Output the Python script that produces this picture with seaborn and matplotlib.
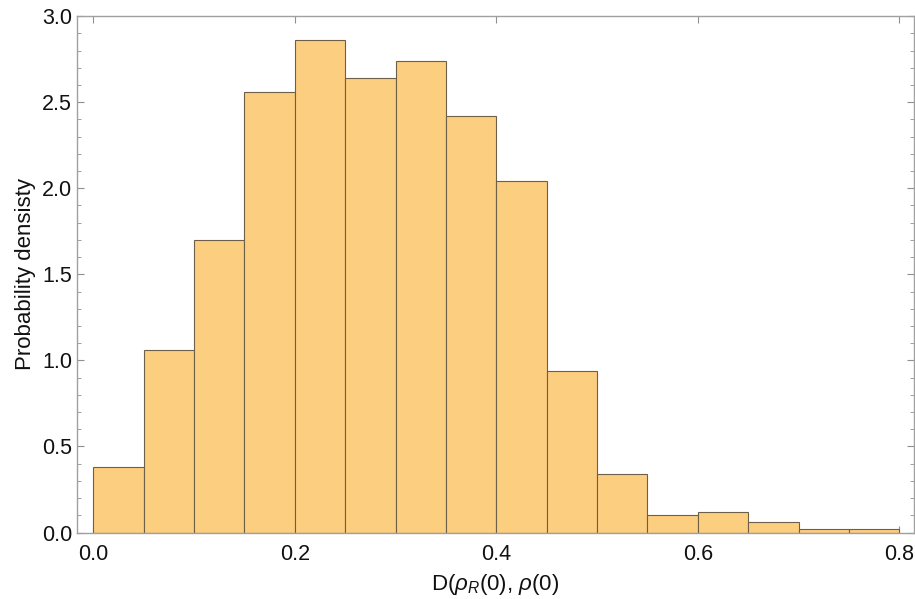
import numpy as np
import matplotlib
matplotlib.use("Agg")
import matplotlib.pyplot as plt
import seaborn as sns
from matplotlib.ticker import MultipleLocator

# Data (bin width 0.05)
bin_edges = [0.00, 0.05, 0.10, 0.15, 0.20, 0.25, 0.30, 0.35, 0.40,
             0.45, 0.50, 0.55, 0.60, 0.65, 0.70, 0.75, 0.80]
densities = [0.38, 1.06, 1.70, 2.56, 2.86, 2.64, 2.74, 2.42,
             2.04, 0.94, 0.34, 0.10, 0.12, 0.06, 0.02, 0.02]
x_ticks = [0.0, 0.2, 0.4, 0.6, 0.8]
y_ticks = [0.0, 0.5, 1.0, 1.5, 2.0, 2.5, 3.0]

sns.set_style("ticks")
plt.rcParams['font.family'] = ['Liberation Sans', 'DejaVu Sans']
plt.rcParams['mathtext.fontset'] = 'custom'
plt.rcParams['mathtext.rm'] = 'Liberation Sans'
plt.rcParams['mathtext.it'] = 'Liberation Sans:italic'

centers = [(a + b) / 2 for a, b in zip(bin_edges[:-1], bin_edges[1:])]

fig = plt.figure(figsize=(9.15, 5.99), dpi=100)
ax = fig.add_axes([0.0842, 0.111, 0.9142, 0.862])

sns.histplot(x=centers, weights=densities, bins=bin_edges, stat="count",
             color="#fcce80", alpha=1.0, edgecolor="#6e6048", linewidth=0.8,
             ax=ax)

ax.set_xlim(-0.016, 0.814)
ax.set_ylim(0, 3.0)
ax.set_xticks(x_ticks)
ax.set_xticklabels([f"{v:.1f}" for v in x_ticks])
ax.set_yticks(y_ticks)
ax.set_yticklabels([f"{v:.1f}" for v in y_ticks])
ax.yaxis.set_minor_locator(MultipleLocator(0.1))

for s in ax.spines.values():
    s.set_visible(True)
    s.set_color("#a0a0a0")
    s.set_linewidth(1.0)

ax.tick_params(axis="both", which="major", direction="in", length=5,
               width=0.8, color="#909090", labelsize=15.5,
               labelcolor="#111111", top=True, right=True)
ax.tick_params(axis="x", which="major", pad=8)
ax.tick_params(axis="y", which="major", pad=3.5)
ax.tick_params(axis="y", which="minor", direction="in", length=3,
               width=0.6, color="#909090", right=True)
ax.tick_params(axis="x", which="minor", bottom=False, top=False)

ax.set_ylabel("Probability densisty", fontsize=16, color="#111111", labelpad=4)
ax.set_xlabel(r"D($\rho_R$(0), $\rho$(0)", fontsize=16, color="#111111", labelpad=5)

fig.savefig("out.png", dpi=100)
